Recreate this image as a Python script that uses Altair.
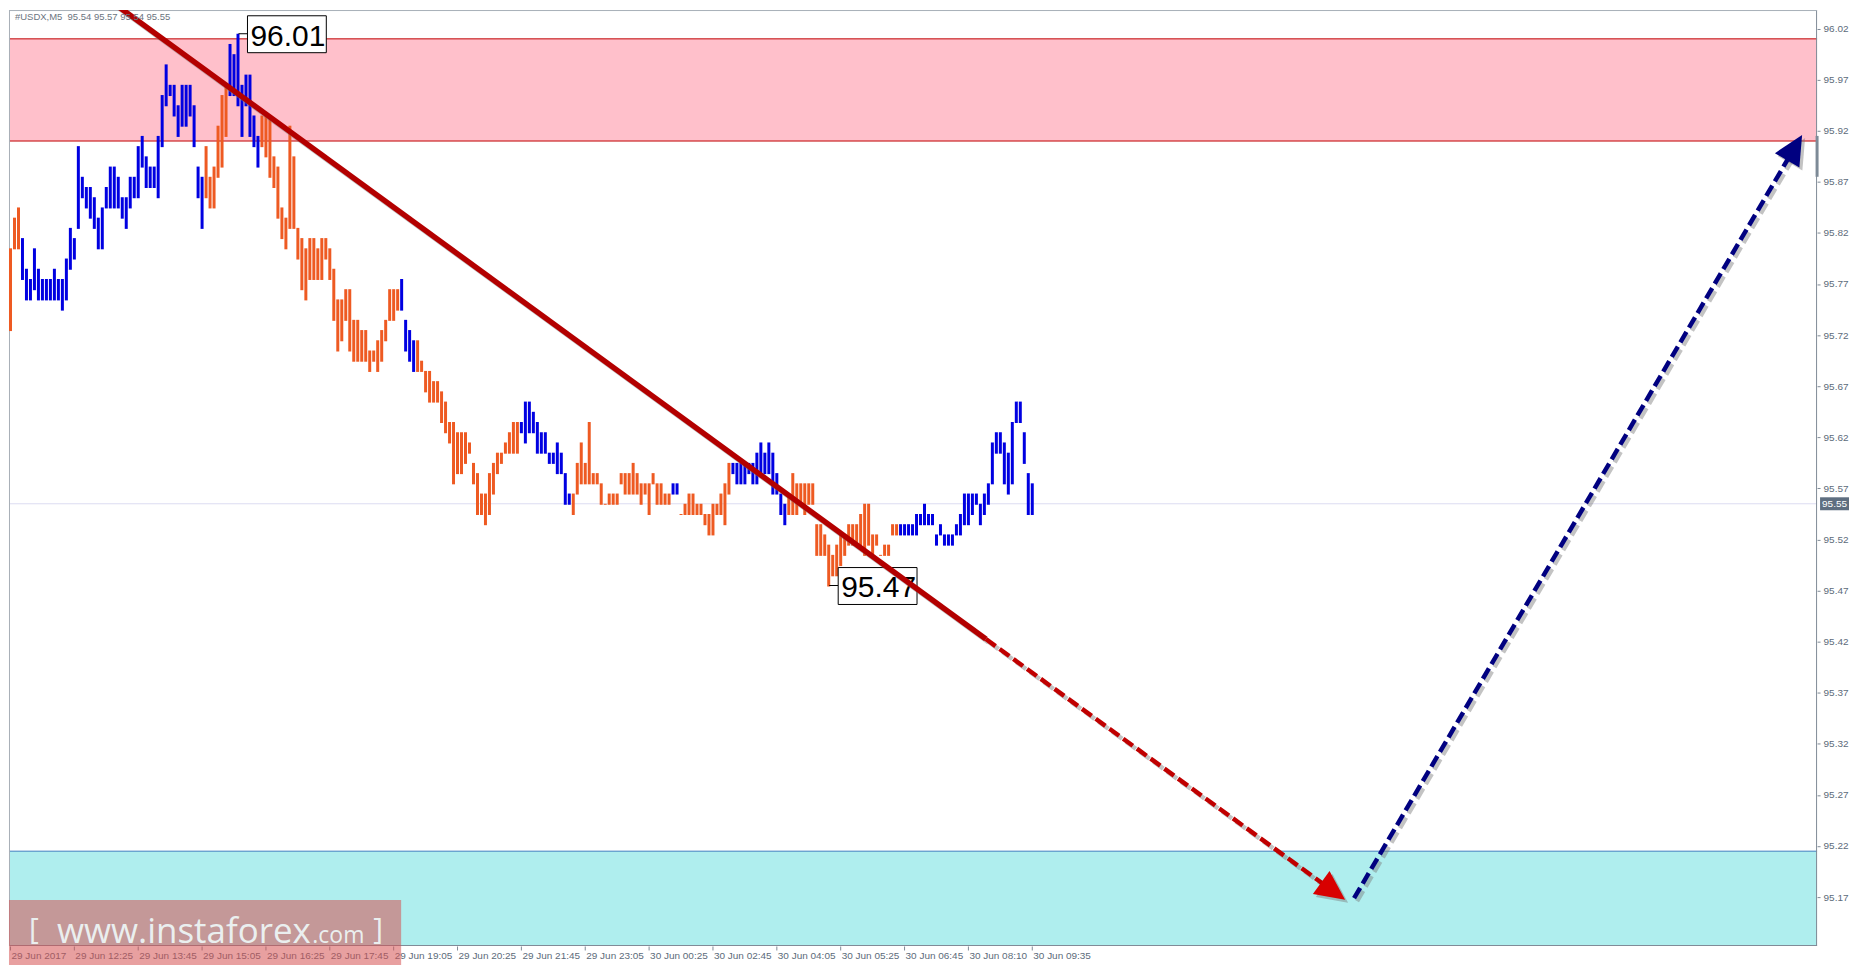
import json
import math
import altair as alt
import pandas as pd

# ---------------- data ----------------
symbol = "#USDX,M5"
last_ohlc = [95.54, 95.57, 95.54, 95.55]

time_labels = ["29 Jun 2017", "29 Jun 12:25", "29 Jun 13:45", "29 Jun 15:05", "29 Jun 16:25",
               "29 Jun 17:45", "29 Jun 19:05", "29 Jun 20:25", "29 Jun 21:45", "29 Jun 23:05",
               "30 Jun 00:25", "30 Jun 02:45", "30 Jun 04:05", "30 Jun 05:25", "30 Jun 06:45",
               "30 Jun 08:10", "30 Jun 09:35"]
bars_per_label = 16

highs = [
    95.80, 95.83, 95.84, 95.81, 95.78, 95.77, 95.80, 95.78, 95.77, 95.77, 95.77, 95.78, 95.77, 95.77, 95.79, 95.82,
    95.81, 95.90, 95.87, 95.86, 95.86, 95.85, 95.83, 95.84, 95.86, 95.88, 95.88, 95.87, 95.85, 95.85, 95.87, 95.87,
    95.90, 95.91, 95.89, 95.88, 95.88, 95.91, 95.95, 95.98, 95.96, 95.96, 95.94, 95.96, 95.96, 95.96, 95.94, 95.88,
    95.87, 95.90, 95.87, 95.88, 95.92, 95.95, 95.96, 96.00, 95.99, 96.01, 95.96, 95.97, 95.97, 95.93, 95.91, 95.93,
    95.93, 95.93, 95.89, 95.88, 95.84, 95.83, 95.92, 95.89, 95.82, 95.81, 95.80, 95.81, 95.81, 95.80, 95.81, 95.81,
    95.80, 95.78, 95.75, 95.75, 95.76, 95.76, 95.73, 95.73, 95.72, 95.72, 95.70, 95.70, 95.71, 95.72, 95.73, 95.76,
    95.76, 95.76, 95.77, 95.73, 95.72, 95.71, 95.71, 95.69, 95.68, 95.68, 95.67, 95.67, 95.66, 95.65, 95.63, 95.63,
    95.62, 95.62, 95.62, 95.61, 95.59, 95.58, 95.56, 95.56, 95.58, 95.59, 95.60, 95.60, 95.61, 95.62, 95.63, 95.63,
    95.63, 95.65, 95.65, 95.64, 95.63, 95.62, 95.62, 95.60, 95.60, 95.61, 95.60, 95.58, 95.56, 95.56, 95.59, 95.61,
    95.59, 95.63, 95.58, 95.58, 95.57, 95.55, 95.56, 95.56, 95.56, 95.58, 95.58, 95.58, 95.59, 95.58, 95.57, 95.57,
    95.57, 95.58, 95.57, 95.57, 95.56, 95.56, 95.57, 95.57, 95.54, 95.55, 95.56, 95.56, 95.55, 95.55, 95.54, 95.54,
    95.55, 95.55, 95.56, 95.57, 95.59, 95.59, 95.59, 95.59, 95.59, 95.59, 95.59, 95.60, 95.61, 95.60, 95.61, 95.60,
    95.58, 95.56, 95.55, 95.56, 95.58, 95.57, 95.57, 95.57, 95.57, 95.57, 95.53, 95.53, 95.52, 95.51, 95.50, 95.51,
    95.52, 95.52, 95.53, 95.53, 95.53, 95.54, 95.55, 95.55, 95.52, 95.52, 95.50, 95.51, 95.51, 95.53, 95.53, 95.53,
    95.53, 95.53, 95.53, 95.54, 95.54, 95.55, 95.54, 95.54, 95.52, 95.53, 95.52, 95.52, 95.52, 95.53, 95.54, 95.56,
    95.56, 95.56, 95.56, 95.55, 95.56, 95.57, 95.61, 95.62, 95.62, 95.61, 95.60, 95.63, 95.65, 95.65, 95.62, 95.58,
    95.57,
]
lows = [
    95.72, 95.80, 95.80, 95.77, 95.75, 95.75, 95.76, 95.75, 95.75, 95.75, 95.75, 95.75, 95.75, 95.74, 95.75, 95.78,
    95.79, 95.82, 95.85, 95.84, 95.83, 95.82, 95.80, 95.80, 95.84, 95.84, 95.84, 95.84, 95.83, 95.82, 95.84, 95.85,
    95.85, 95.88, 95.86, 95.86, 95.86, 95.85, 95.90, 95.94, 95.95, 95.93, 95.91, 95.92, 95.92, 95.93, 95.90, 95.85,
    95.82, 95.85, 95.84, 95.84, 95.87, 95.88, 95.91, 95.95, 95.95, 95.94, 95.91, 95.94, 95.91, 95.90, 95.88, 95.90,
    95.89, 95.87, 95.86, 95.83, 95.81, 95.80, 95.82, 95.82, 95.79, 95.76, 95.75, 95.77, 95.77, 95.77, 95.77, 95.79,
    95.77, 95.73, 95.70, 95.71, 95.73, 95.70, 95.69, 95.69, 95.69, 95.69, 95.68, 95.69, 95.68, 95.69, 95.71, 95.73,
    95.73, 95.74, 95.74, 95.70, 95.69, 95.68, 95.68, 95.68, 95.66, 95.65, 95.65, 95.65, 95.63, 95.62, 95.61, 95.57,
    95.58, 95.58, 95.59, 95.60, 95.57, 95.54, 95.54, 95.53, 95.54, 95.56, 95.58, 95.59, 95.60, 95.60, 95.60, 95.60,
    95.62, 95.61, 95.62, 95.62, 95.60, 95.60, 95.60, 95.59, 95.59, 95.58, 95.58, 95.55, 95.55, 95.54, 95.56, 95.57,
    95.57, 95.57, 95.57, 95.57, 95.55, 95.55, 95.55, 95.55, 95.55, 95.57, 95.56, 95.56, 95.56, 95.56, 95.55, 95.56,
    95.54, 95.57, 95.55, 95.55, 95.55, 95.55, 95.56, 95.56, 95.54, 95.54, 95.54, 95.54, 95.54, 95.54, 95.53, 95.52,
    95.52, 95.54, 95.54, 95.53, 95.56, 95.58, 95.57, 95.57, 95.57, 95.58, 95.57, 95.57, 95.58, 95.58, 95.58, 95.56,
    95.56, 95.54, 95.53, 95.54, 95.54, 95.54, 95.55, 95.54, 95.55, 95.55, 95.50, 95.50, 95.50, 95.47, 95.48, 95.48,
    95.49, 95.50, 95.51, 95.51, 95.51, 95.51, 95.50, 95.51, 95.50, 95.51, 95.50, 95.50, 95.50, 95.52, 95.52, 95.52,
    95.52, 95.52, 95.52, 95.52, 95.53, 95.53, 95.53, 95.53, 95.51, 95.52, 95.51, 95.51, 95.51, 95.52, 95.52, 95.53,
    95.53, 95.54, 95.55, 95.53, 95.54, 95.55, 95.57, 95.60, 95.60, 95.57, 95.56, 95.57, 95.63, 95.63, 95.59, 95.54,
    95.54,
]
# colour runs of the wave indicator: (first bar, last bar, wave)
wave_runs = [(0, 2, "down"), (3, 48, "up"), (49, 54, "down"), (55, 62, "up"), (63, 97, "down"),
             (98, 101, "up"), (102, 127, "down"), (128, 140, "up"), (141, 165, "down"), (166, 167, "up"),
             (168, 180, "down"), (181, 194, "up"), (195, 222, "down"), (223, 256, "up")]

price_ticks = [95.17, 95.22, 95.27, 95.32, 95.37, 95.42, 95.47, 95.52, 95.57,
               95.62, 95.67, 95.72, 95.77, 95.82, 95.87, 95.92, 95.97, 96.02]
resistance_zone = [95.905, 96.005]
support_top = [95.21]
current_price = [95.55]
axis_marker = [95.91, 95.87]

# forecast wave lines (bar-slot, price)
trend_idx = [25.25, 244.5, 334.5]
trend_px = [96.042, 95.4176, 95.1624]
rebound_idx = [336.75, 449.0]
rebound_px = [95.164, 95.911]

# ---------------- layout / style ----------------
W, H = 1812, 938
X_DOM = [-0.25, 452.75]
Y_DOM = [95.1172, 96.0332]
ORANGE = "#EE5A22"
BLUE = "#0000E1"
RED_LINE = "#B30000"
RED_DASH = "#C00000"
RED_HEAD = "#D80000"
NAVY = "#000080"
AX = "#7F8B97"
LBL = "#5C6B7A"
FONT = "Liberation Sans"
ARROW = "M0,0 L1.2,2.5 L-1.2,2.5 Z"

sx = W / (X_DOM[1] - X_DOM[0])
sy = H / (Y_DOM[1] - Y_DOM[0])

xs = alt.Scale(domain=X_DOM, nice=False, zero=False)
ys = alt.Scale(domain=Y_DOM, nice=False, zero=False)

x_axis = alt.Axis(
    values=list(range(0, bars_per_label * len(time_labels), bars_per_label)),
    labelExpr=f"{json.dumps(time_labels)}[round(datum.value/{bars_per_label})]",
    orient="bottom", title=None, domain=False, grid=False, tickSize=4, tickColor=AX,
    labelColor=LBL, labelFont=FONT, labelFontSize=10, labelAlign="left", labelBaseline="top",
    labelPadding=1, labelOffset=1, labelFlush=False, labelOverlap=False, labelBound=False, zindex=0)
y_axis = alt.Axis(
    values=price_ticks, format=".2f", orient="right", title=None, domain=False, grid=False,
    tickSize=3, tickColor=AX, labelColor=LBL, labelFont=FONT, labelFontSize=10, labelPadding=3,
    tickOffset=5, labelFlush=False, labelOverlap=False, labelBound=False, zindex=0)


def X(f):
    return alt.X(f, scale=xs, axis=x_axis)


def Y(f):
    return alt.Y(f, scale=ys, axis=y_axis)


wave = []
for a, b, w in wave_runs:
    wave += [w] * (b - a + 1)

bars_df = pd.DataFrame({"idx": list(range(len(highs))), "high": highs, "low": lows, "wave": wave})

one = pd.DataFrame({"k": [0]})

# zones
zone_df = pd.DataFrame({"lo": [resistance_zone[0]], "hi": [resistance_zone[1]]})
pink = alt.Chart(zone_df).mark_rect(color="#FFC0CB").encode(
    x=alt.value(0), x2=alt.value(W), y=Y("hi:Q"), y2="lo:Q")
pink_edges = alt.Chart(pd.DataFrame({"p": resistance_zone})).mark_rule(color="#C00000", strokeWidth=1).encode(
    x=alt.value(0), x2=alt.value(W), y=Y("p:Q"))
cyan = alt.Chart(pd.DataFrame({"top": support_top})).mark_rect(color="#AFEEEE").encode(
    x=alt.value(0), x2=alt.value(W), y=Y("top:Q"), y2=alt.value(H))
cyan_edge = alt.Chart(pd.DataFrame({"top": support_top})).mark_rule(color="#3F7FBF", strokeWidth=1).encode(
    x=alt.value(0), x2=alt.value(W), y=Y("top:Q"))
cur_line = alt.Chart(pd.DataFrame({"p": current_price})).mark_rule(color="#DCDCF2", strokeWidth=1).encode(
    x=alt.value(0), x2=alt.value(W), y=Y("p:Q"))

bars = alt.Chart(bars_df).mark_rule(strokeWidth=3, y2Offset=1, xOffset=0.5).encode(
    x=X("idx:Q"),
    y=Y("high:Q"),
    y2="low:Q",
    color=alt.Color("wave:N", scale=alt.Scale(domain=["down", "up"], range=[ORANGE, BLUE]), legend=None))

# extreme labels
hi_i = max(range(len(highs)), key=lambda i: highs[i])
lo_i = min(range(len(lows)), key=lambda i: lows[i])
ann = pd.DataFrame({"idx": [hi_i, lo_i], "p": [highs[hi_i], lows[lo_i]]})
ann["label"] = ann["p"].map(lambda v: f"{v:.2f}")
ann_base = alt.Chart(ann).encode(x=X("idx:Q"), y=Y("p:Q"))
connector = ann_base.mark_rule(color="black", strokeWidth=1, xOffset=1, x2Offset=10).encode(x2="idx:Q")
box = ann_base.mark_rect(fill="white", stroke="black", strokeWidth=1, xOffset=10, x2Offset=89,
                         yOffset=-18, y2Offset=19).encode(x2="idx:Q", y2="p:Q")
box_text = ann_base.mark_text(align="left", baseline="alphabetic", dx=13, dy=12, fontSize=30,
                              font=FONT, color="black").encode(text="label:N")


# forecast lines
def ang(i0, p0, i1, p1):
    dx = (i1 - i0) * sx
    dy = -(p1 - p0) * sy
    return (math.degrees(math.atan2(dy, dx)) + 90) % 360


def shorten(i0, p0, i1, p1, px):
    dx = (i1 - i0) * sx
    dy = -(p1 - p0) * sy
    L = math.hypot(dx, dy)
    k = (L - px) / L
    return i0 + (i1 - i0) * k, p0 + (p1 - p0) * k


red_end = shorten(trend_idx[1], trend_px[1], trend_idx[2], trend_px[2], 16)
blue_end = shorten(rebound_idx[0], rebound_px[0], rebound_idx[1], rebound_px[1], 16)

solid_df = pd.DataFrame({"idx": trend_idx[:2], "p": trend_px[:2]})
rdash_df = pd.DataFrame({"idx": [trend_idx[1], red_end[0]], "p": [trend_px[1], red_end[1]]})
bdash_df = pd.DataFrame({"idx": [rebound_idx[0], blue_end[0]], "p": [rebound_px[0], blue_end[1]]})


def line(df, **kw):
    return alt.Chart(df).mark_line(clip=True, **kw).encode(x=X("idx:Q"), y=Y("p:Q"), order="idx:Q")


DASH = [12, 5]
shadow_kw = dict(color="#7A7A7A", opacity=0.45, xOffset=3, yOffset=3)
red_solid_sh = line(solid_df, strokeWidth=5.5, **shadow_kw)
red_solid = line(solid_df, strokeWidth=5.5, color=RED_LINE)
red_dash_sh = line(rdash_df, strokeWidth=4.5, strokeDash=DASH, **shadow_kw)
red_dash = line(rdash_df, strokeWidth=4.5, strokeDash=DASH, color=RED_DASH)
blue_dash_sh = line(bdash_df, strokeWidth=4.5, strokeDash=DASH, **shadow_kw)
blue_dash = line(bdash_df, strokeWidth=4.5, strokeDash=DASH, color=NAVY)

heads = pd.DataFrame({
    "idx": [trend_idx[2], rebound_idx[1]],
    "p": [trend_px[2], rebound_px[1]],
    "angle": [ang(trend_idx[1], trend_px[1], trend_idx[2], trend_px[2]),
              ang(rebound_idx[0], rebound_px[0], rebound_idx[1], rebound_px[1])],
    "c": [RED_HEAD, NAVY],
})
heads_base = alt.Chart(heads).encode(x=X("idx:Q"), y=Y("p:Q"), angle=alt.Angle("angle:Q", scale=None))
heads_sh = heads_base.mark_point(shape=ARROW, filled=True, size=560, strokeWidth=0,
                                 color="#7A7A7A", opacity=0.45, xOffset=3, yOffset=3)
heads_fg = heads_base.mark_point(shape=ARROW, filled=True, size=560, strokeWidth=0, opacity=1).encode(
    color=alt.Color("c:N", scale=None))

# frame / axis lines
frame = alt.layer(
    alt.Chart(one).mark_rule(color=AX, strokeWidth=1).encode(x=alt.value(0), x2=alt.value(W), y=alt.value(H - 0.5)),
    alt.Chart(one).mark_rule(color=AX, strokeWidth=1).encode(x=alt.value(W - 0.5), y=alt.value(0), y2=alt.value(H)),
    alt.Chart(one).mark_rule(color="#A8B0B8", strokeWidth=1).encode(x=alt.value(0), x2=alt.value(W), y=alt.value(0.5)),
    alt.Chart(one).mark_rule(color="#A8B0B8", strokeWidth=1).encode(x=alt.value(0.5), y=alt.value(0), y2=alt.value(H)),
)
marker = alt.Chart(pd.DataFrame({"a": [axis_marker[0]], "b": [axis_marker[1]]})).mark_rule(
    color="#7D8A97", strokeWidth=3).encode(x=alt.value(W), y=Y("a:Q"), y2="b:Q")

# current price tag on the price axis
tag_df = pd.DataFrame({"p": current_price, "t": [f"{current_price[0]:.2f}"]})
tag_box = alt.Chart(tag_df).mark_rect(color="#5E6E80", yOffset=-6.5, y2Offset=6.5).encode(
    x=alt.value(W + 3), x2=alt.value(W + 32), y=Y("p:Q"), y2="p:Q")
tag_txt = alt.Chart(tag_df).mark_text(color="white", font=FONT, fontSize=10, align="center",
                                      baseline="middle").encode(
    x=alt.value(W + 17.5), y=Y("p:Q"), text="t:N")

# header
header = " ".join(f"{v:.2f}" for v in last_ohlc)
head_txt = alt.Chart(one).mark_text(text=symbol + "\u00a0\u00a0" + header, align="left", baseline="middle",
                                    font=FONT, fontSize=9.5, color="#6B7480").encode(
    x=alt.value(6), y=alt.value(7))

# watermark
wm_box = alt.Chart(one).mark_rect(color="rgb(213,82,82)", opacity=0.55).encode(
    x=alt.value(0), x2=alt.value(393), y=alt.value(892), y2=alt.value(957))
wm_kw = dict(font="Open Sans", color="#EEF7F7", align="left", baseline="alphabetic", opacity=0.92)
wm1 = alt.Chart(one).mark_text(text="[", fontSize=30, **wm_kw).encode(x=alt.value(20), y=alt.value(931))
wm2 = alt.Chart(one).mark_text(text="www.instaforex", fontSize=35, **wm_kw).encode(x=alt.value(48), y=alt.value(935))
wm3 = alt.Chart(one).mark_text(text=".com", fontSize=23, **wm_kw).encode(x=alt.value(304), y=alt.value(935))
wm4 = alt.Chart(one).mark_text(text="]", fontSize=30, **wm_kw).encode(x=alt.value(365), y=alt.value(931))

chart = alt.layer(
    pink, pink_edges, cyan, cyan_edge, cur_line, frame, marker,
    bars, connector, box, box_text,
    red_solid_sh, red_dash_sh, blue_dash_sh, heads_sh,
    red_solid, red_dash, blue_dash, heads_fg,
    head_txt, tag_box, tag_txt,
    wm_box, wm1, wm2, wm3, wm4,
).properties(width=W, height=H, padding=0, background="white").configure_view(stroke=None)

chart.save("out.html", embed_options={"renderer": "svg", "actions": False})
